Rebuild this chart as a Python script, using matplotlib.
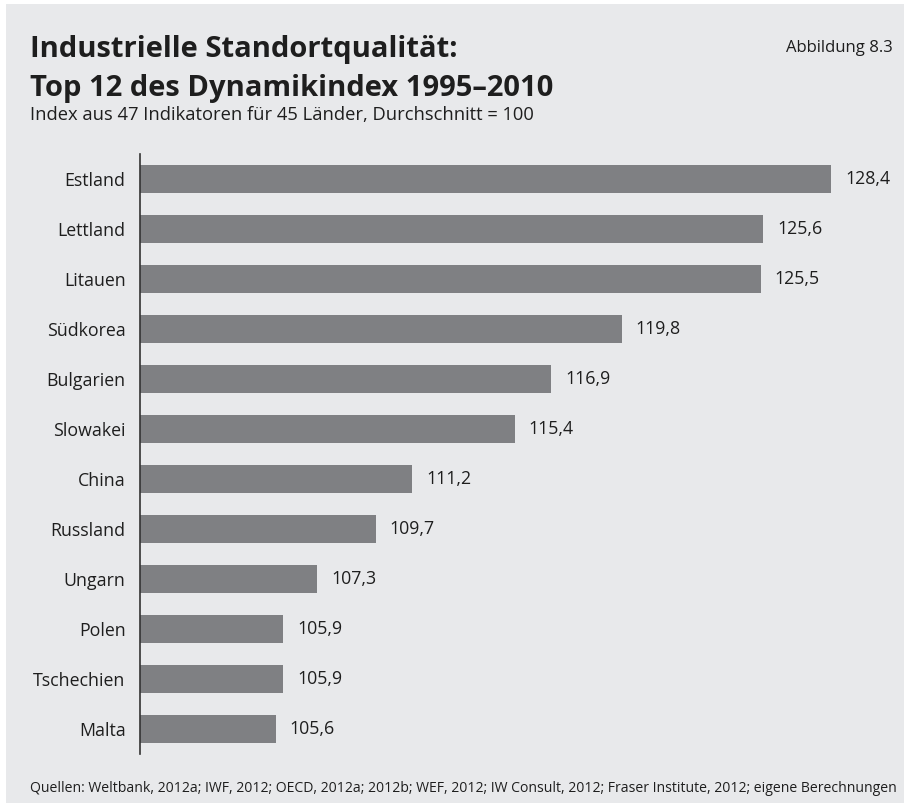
import matplotlib.pyplot as plt
from matplotlib.patches import Rectangle

plt.rcParams['font.family'] = ['Open Sans', 'DejaVu Sans']

laender = ['Estland', 'Lettland', 'Litauen', 'Südkorea', 'Bulgarien', 'Slowakei',
           'China', 'Russland', 'Ungarn', 'Polen', 'Tschechien', 'Malta']
werte = [128.4, 125.6, 125.5, 119.8, 116.9, 115.4, 111.2, 109.7, 107.3, 105.9, 105.9, 105.6]
basis = 100

bg = '#e8e9eb'
bar_col = '#7f8083'
txt = '#1e1e1e'

fig = plt.figure(figsize=(9.09, 8.07), dpi=100)
fig.patch.set_facecolor('white')
fig.patches.append(Rectangle((6 / 909, 4 / 807), 898 / 909, 799 / 807,
                             transform=fig.transFigure, facecolor=bg, edgecolor='none', zorder=-1))

ax = fig.add_axes([139.5 / 909, 53 / 807, 730.8 / 909, 600 / 807])
ax.set_facecolor('none')
y = list(range(len(laender)))
ax.barh(y, [w - basis for w in werte], left=basis, height=0.57, color=bar_col)
ax.set_xlim(basis, 130)
ax.set_ylim(len(laender) - 0.5, -0.5)
ax.set_yticks(y)
ax.set_yticklabels(laender, fontsize=12.8, color=txt)
ax.tick_params(axis='y', length=0, pad=10)
ax.set_xticks([])
for s in ['top', 'right', 'bottom']:
    ax.spines[s].set_visible(False)
ax.spines['left'].set_color('#333333')
ax.spines['left'].set_linewidth(1.2)

for yi, w in zip(y, werte):
    ax.annotate(f'{w:.1f}'.replace('.', ','), (w, yi), xytext=(10, 0), textcoords='offset points',
                va='center', ha='left', fontsize=12.8, color=txt, annotation_clip=False)

fig.text(30 / 909, 1 - 57 / 807, 'Industrielle Standortqualität:',
         fontsize=21, fontweight='bold', color=txt, va='baseline', ha='left')
fig.text(30 / 909, 1 - 96 / 807, 'Top 12 des Dynamikindex 1995–2010',
         fontsize=21, fontweight='bold', color=txt, va='baseline', ha='left')
fig.text(893 / 909, 1 - 52 / 807, 'Abbildung 8.3', fontsize=12, color=txt, ha='right', va='baseline')
fig.text(30 / 909, 1 - 120 / 807, 'Index aus 47 Indikatoren für 45 Länder, Durchschnitt = 100',
         fontsize=13.2, color=txt, ha='left', va='baseline')
fig.text(30 / 909, 1 - 792 / 807,
         'Quellen: Weltbank, 2012a; IWF, 2012; OECD, 2012a; 2012b; WEF, 2012; IW Consult, 2012; '
         'Fraser Institute, 2012; eigene Berechnungen',
         fontsize=10.1, color=txt, ha='left', va='baseline')

fig.savefig('out.png', dpi=100, facecolor=fig.get_facecolor())
